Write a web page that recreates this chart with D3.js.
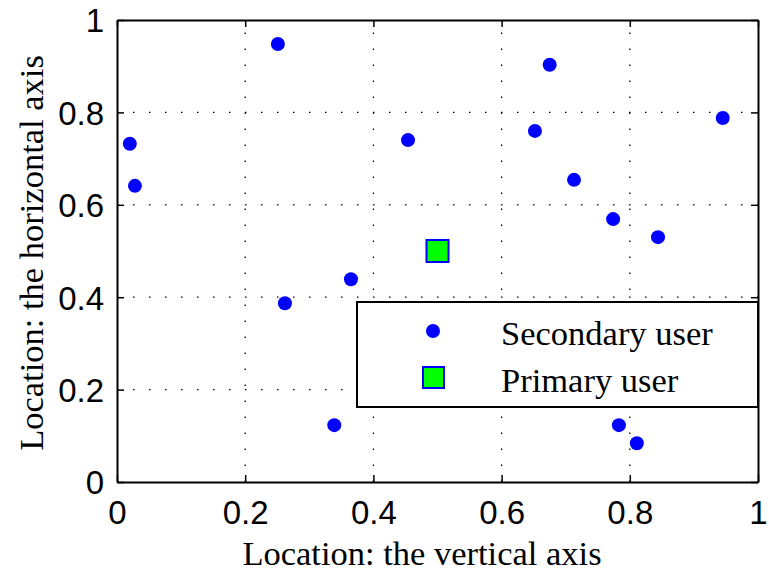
<!DOCTYPE html>
<html>
<head>
<meta charset="utf-8">
<script src="https://cdn.jsdelivr.net/npm/d3@7"></script>
<style>
  body { margin: 0; background: #fff; }
</style>
</head>
<body>
<div id="chart"></div>
<script>
// Secondary user locations
const secondaryX = [0.251, 0.675, 0.945, 0.652, 0.454, 0.020, 0.028, 0.713, 0.774, 0.844, 0.365, 0.262, 0.339, 0.783, 0.811];
const secondaryY = [0.948, 0.903, 0.788, 0.760, 0.740, 0.732, 0.641, 0.654, 0.569, 0.530, 0.439, 0.387, 0.123, 0.123, 0.084];
// Primary user location
const primaryX = [0.5];
const primaryY = [0.5];
const tickValues = [0, 0.2, 0.4, 0.6, 0.8, 1];
const legendLabels = ["Secondary user", "Primary user"];

const width = 769;
const height = 575;
const margin = { top: 20, right: 11, bottom: 93, left: 117 };

const svg = d3.select("#chart")
    .append("svg")
    .attr("width", width)
    .attr("height", height);

const x = d3.scaleLinear()
    .domain([0, 1])
    .range([margin.left, width - margin.right]);

const y = d3.scaleLinear()
    .domain([0, 1])
    .range([height - margin.bottom, margin.top]);

// dotted grid
const grid = svg.append("g");
tickValues.slice(1, -1).forEach(t => {
    grid.append("line")
        .attr("x1", x(t)).attr("x2", x(t))
        .attr("y1", y(0)).attr("y2", y(1))
        .attr("stroke", "#000")
        .attr("stroke-width", 1.3)
        .attr("stroke-dasharray", "1.5,14.5");
    grid.append("line")
        .attr("x1", x(0)).attr("x2", x(1))
        .attr("y1", y(t)).attr("y2", y(t))
        .attr("stroke", "#000")
        .attr("stroke-width", 1.3)
        .attr("stroke-dasharray", "1.5,14.5");
});

const fontSans = "'Liberation Sans', Arial, sans-serif";
const fontSerif = "'Liberation Serif', 'Times New Roman', serif";

// axes with inward ticks
const xAxis = svg.append("g")
    .attr("transform", `translate(0, ${y(0)})`)
    .call(d3.axisBottom(x).tickValues(tickValues).tickFormat(d3.format("")).tickSizeInner(-7).tickSizeOuter(0));
xAxis.selectAll(".tick text").attr("y", 42).attr("dy", null);

const yAxis = svg.append("g")
    .attr("transform", `translate(${x(0)}, 0)`)
    .call(d3.axisLeft(y).tickValues(tickValues).tickFormat(d3.format("")).tickSizeInner(-7).tickSizeOuter(0));
yAxis.selectAll(".tick text").attr("x", -13).attr("dy", "0.36em");

svg.append("g")
    .attr("transform", `translate(0, ${y(1)})`)
    .call(d3.axisTop(x).tickValues(tickValues).tickFormat("").tickSizeInner(-7).tickSizeOuter(0));

svg.append("g")
    .attr("transform", `translate(${x(1)}, 0)`)
    .call(d3.axisRight(y).tickValues(tickValues).tickFormat("").tickSizeInner(-7).tickSizeOuter(0));

svg.selectAll(".domain").attr("stroke", "#000").attr("stroke-width", 2);
svg.selectAll(".tick line").attr("stroke", "#000").attr("stroke-width", 1.5);
svg.selectAll(".tick text")
    .attr("font-family", fontSans)
    .attr("font-size", 33)
    .attr("fill", "#000");

// points
svg.append("g")
    .selectAll("circle")
    .data(secondaryX.map((d, i) => ({ x: d, y: secondaryY[i] })))
    .enter()
    .append("circle")
    .attr("cx", d => x(d.x))
    .attr("cy", d => y(d.y))
    .attr("r", 7)
    .attr("fill", "#0000ff");

svg.append("g")
    .selectAll("rect")
    .data(primaryX.map((d, i) => ({ x: d, y: primaryY[i] })))
    .enter()
    .append("rect")
    .attr("x", d => x(d.x) - 11)
    .attr("y", d => y(d.y) - 11)
    .attr("width", 22)
    .attr("height", 22)
    .attr("fill", "#00ff00")
    .attr("stroke", "#0000ff")
    .attr("stroke-width", 2);

// legend
const legend = svg.append("g");
legend.append("rect")
    .attr("x", 357)
    .attr("y", 302)
    .attr("width", x(1) - 357)
    .attr("height", 105)
    .attr("fill", "#fff")
    .attr("stroke", "#000")
    .attr("stroke-width", 2);

legend.append("circle")
    .attr("cx", 433)
    .attr("cy", 331)
    .attr("r", 7)
    .attr("fill", "#0000ff");

legend.append("rect")
    .attr("x", 423)
    .attr("y", 367)
    .attr("width", 21)
    .attr("height", 21)
    .attr("fill", "#00ff00")
    .attr("stroke", "#0000ff")
    .attr("stroke-width", 2);

legendLabels.forEach((label, i) => {
    legend.append("text")
        .attr("x", 501)
        .attr("y", 345 + i * 47)
        .attr("font-family", fontSerif)
        .attr("font-size", 34.5)
        .attr("fill", "#000")
        .text(label);
});

// axis titles
svg.append("text")
    .attr("x", 422)
    .attr("y", 565)
    .attr("text-anchor", "middle")
    .attr("font-family", fontSerif)
    .attr("font-size", 34.5)
    .attr("fill", "#000")
    .text("Location: the vertical axis");

svg.append("text")
    .attr("transform", "rotate(-90)")
    .attr("x", -253)
    .attr("y", 43)
    .attr("text-anchor", "middle")
    .attr("font-family", fontSerif)
    .attr("font-size", 34.5)
    .attr("fill", "#000")
    .text("Location: the horizontal axis");
</script>
</body>
</html>
